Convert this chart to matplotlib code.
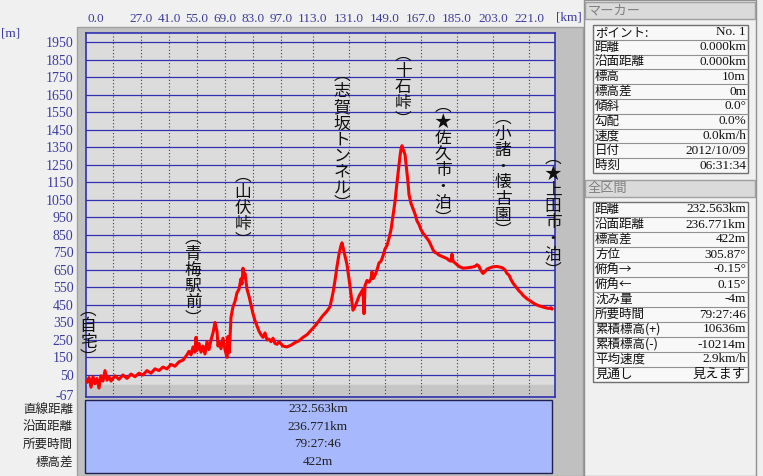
import matplotlib
matplotlib.use("Agg")
import matplotlib.pyplot as plt
from matplotlib.patches import Rectangle
from matplotlib.lines import Line2D

# route profile (distance km, elevation m)
km = [0, 1, 2, 3, 4, 5, 6, 7, 8, 9, 10, 11, 12, 14, 16, 18, 20, 22, 24, 26,
      28, 30, 32, 34, 36, 38, 40, 42, 44, 46, 48, 50, 51, 52, 53, 54, 54.5, 55,
      56, 57, 58, 59, 60, 61, 62, 63, 64, 65, 65.5, 66, 67, 68, 69, 70, 70.5,
      71, 71.5, 72, 73, 74, 75, 76, 77, 77.5, 78, 78.5, 79, 80, 81, 82, 83, 84,
      85, 86, 87, 88, 89, 90, 91, 92, 93, 94, 95, 96, 98, 100, 102, 104, 106,
      108, 110, 112, 114, 116, 118, 120, 121.5, 123, 124, 125, 126, 127, 127.5,
      128, 129, 130, 131, 132, 133, 134, 135, 136, 137, 138, 138.5, 139, 140,
      141, 142, 142.5, 143, 144, 145, 146, 147, 148, 149, 150, 151, 152, 153,
      154, 155, 156, 156.5, 157, 157.5, 158, 159, 160, 160.5, 161, 162, 163,
      164, 165, 166, 167, 168, 169, 170, 171, 172, 173, 174, 175, 176, 177, 178,
      179, 180, 181, 182, 182.5, 183, 184, 185, 186, 187, 188, 190, 192, 194,
      195, 196, 197, 198, 199, 200, 201, 203, 205, 207, 208, 209, 210, 211, 212,
      213, 214, 215, 216, 217, 218, 219, 220, 221, 222, 223, 224, 225, 226, 227,
      228, 229, 230, 231, 232, 232.5]
elev = [10, 35, -20, 40, 0, 30, -25, 45, 15, 75, 20, 40, 15, 45, 25, 50, 30,
        55, 40, 60, 50, 75, 60, 85, 75, 95, 85, 110, 100, 125, 135, 165, 185,
        165, 210, 180, 265, 190, 230, 180, 215, 170, 240, 195, 250, 290, 350,
        300, 215, 240, 200, 260, 195, 150, 270, 175, 260, 380, 440, 470, 520,
        540, 600, 570, 660, 610, 630, 540, 500, 450, 400, 360, 330, 300, 280,
        265, 290, 250, 255, 240, 260, 230, 225, 240, 215, 210, 220, 235, 245,
        265, 280, 305, 330, 360, 390, 415, 440, 520, 590, 670, 740, 790, 805,
        780, 730, 680, 600, 510, 420, 440, 470, 500, 520, 540, 400, 560, 590,
        580, 600, 640, 600, 620, 650, 690, 700, 730, 770, 790, 830, 880, 960,
        1040, 1150, 1250, 1300, 1340, 1360, 1340, 1310, 1200, 1150, 1080, 1030,
        1000, 970, 930, 910, 880, 860, 845, 830, 815, 790, 765, 750, 745, 735,
        730, 725, 720, 715, 705, 700, 740, 700, 690, 680, 670, 665, 660, 662,
        665, 670, 680, 670, 645, 630, 640, 655, 660, 668, 670, 665, 660, 650,
        630, 620, 595, 575, 560, 545, 530, 520, 505, 495, 485, 478, 470, 462,
        455, 450, 445, 442, 438, 435, 432, 430, 434, 428]

place_names = ["自宅", "青梅駅前", "山伏峠", "志賀坂トンネル", "十石峠",
               "★佐久市・泊", "小諸・懐古園", "★上田市・泊"]
place_km = [0.5, 53, 78, 127.5, 158, 178, 208, 233]

ytick_vals = [1950, 1850, 1750, 1650, 1550, 1450, 1350, 1250, 1150, 1050,
              950, 850, 750, 650, 550, 450, 350, 250, 150, 50, -67]
xtick_vals = [0, 27, 41, 55, 69, 83, 97, 113, 131, 149, 167, 185, 203, 221]
xgrid_vals = [13, 27, 41, 55, 69, 83, 97, 113, 131, 149, 167, 185, 203, 221]

summary_names = ["直線距離", "沿面距離", "所要時間", "標高差"]
summary_values = ["232.563km", "236.771km", "79:27:46", "422m"]

marker_names = ["ポイント:", "距離", "沿面距離", "標高", "標高差", "傾斜", "勾配",
                "速度", "日付", "時刻"]
marker_values = ["No. 1", "0.000km", "0.000km", "10m", "0m", "0.0°", "0.0%",
                 "0.0km/h", "2012/10/09", "06:31:34"]
section_names = ["距離", "沿面距離", "標高差", "方位", "俯角→", "俯角←", "沈み量",
                 "所要時間", "累積標高(+)", "累積標高(-)", "平均速度", "見通し"]
section_values = ["232.563km", "236.771km", "422m", "305.87°", "-0.15°",
                  "0.15°", "-4m", "79:27:46", "10636m", "-10214m", "2.9km/h",
                  "見えます"]

W, H = 763, 476
JP = "Noto Sans CJK JP"
NUM = ["Liberation Serif", JP]
BLUE = "#3030b0"
LBL = "#3c3c9c"

fig = plt.figure(figsize=(W / 100, H / 100), dpi=100, facecolor="#f0f0f0")


def rect(x0, y0, x1, y1, **kw):
    r = Rectangle((x0 / W, 1 - y1 / H), (x1 - x0) / W, (y1 - y0) / H,
                  transform=fig.transFigure, **kw)
    fig.add_artist(r)
    return r


def hline(x0, x1, y, **kw):
    fig.add_artist(Line2D([x0 / W, x1 / W], [1 - y / H, 1 - y / H],
                          transform=fig.transFigure, **kw))


def ftext(x, y, s, **kw):
    fig.text(x / W, 1 - y / H, s, **kw)


# grey frame round the graph
rect(77, 27, 583, 476, facecolor="#c0c0c0", edgecolor="#a0a0a0", lw=1, zorder=-5)

ax = fig.add_axes([86 / W, 1 - 397 / H, (555 - 86) / W, (397 - 33) / H])
ax.set_facecolor("#dcdcdc")
ax.set_xlim(-0.5, 234)
ax.set_ylim(-76, 2004)
ax.axhspan(-76, -10, color="#c6c6c6", zorder=0)
for v in ytick_vals[:-1]:
    ax.axhline(v, color=BLUE, lw=0.9, zorder=1)
for v in xgrid_vals:
    ax.axvline(v, color=BLUE, lw=0.8, ls=(0, (1, 2)), zorder=1)
for s in ax.spines.values():
    s.set_color(BLUE)
    s.set_linewidth(1.2)

ax.plot(km, elev, color="red", lw=2.2, zorder=3)

ax.set_yticks(ytick_vals)
ax.set_yticklabels([str(v) for v in ytick_vals], family=NUM, fontsize=10, color=LBL)
ax.xaxis.tick_top()
ax.set_xticks(xtick_vals)
ax.set_xticklabels(["%.1f" % v for v in xtick_vals], family=NUM, fontsize=9.5,
                   color=LBL)
ax.tick_params(length=0)
ax.tick_params(axis="y", pad=9)
ax.tick_params(axis="x", pad=6)
for lbl in ax.get_xticklabels():
    if lbl.get_text() == "0.0":
        lbl.set_ha("left")

ftext(569, 17, "[km]", family=NUM, fontsize=9.5, color=LBL, ha="center", va="center")
ftext(1, 34, "[m]", family=NUM, fontsize=9.5, color=LBL, ha="left", va="center")

# place names written vertically
tops = [467, 879, 1233, 1810, 1924, 1633, 1564, 1336]
for name, x, top in zip(place_names, place_km, tops):
    chars = ["︵"] + list(name) + ["︶"]
    for i, ch in enumerate(chars):
        ax.annotate(ch, xy=(x, top), xytext=(0, -11.6 * i), textcoords="offset points",
                    ha="center", va="top", fontsize=12, family=[JP, "DejaVu Sans"],
                    color="#101010", annotation_clip=False, zorder=4)

# summary box under the graph
rect(85, 400, 552, 473, facecolor="#a8b8fc", edgecolor="#202050", lw=1)
for i, (n, v) in enumerate(zip(summary_names, summary_values)):
    y = 409 + i * 17.6
    ftext(73, y, n, family=JP, fontsize=9, color="#202020", ha="right", va="center")
    ftext(318, y, v, family=NUM, fontsize=9.5, color="#202020", ha="center", va="center")

# side panel
rect(584, 0, 756, 476, facecolor="#f0f0f0", edgecolor="#909090", lw=1)


def header(y0, y1, title):
    rect(585, y0, 755, y1, facecolor="#dadada", edgecolor="#a0a0a0", lw=1)
    ftext(588, (y0 + y1) / 2, title, family=JP, fontsize=9.5, color="#808080",
          ha="left", va="center")


def table(y0, rowh, names, values):
    n = len(names)
    rect(593, y0, 748, y0 + rowh * n, facecolor="#f8f8f8", edgecolor="#707070", lw=1)
    for i, (a, b) in enumerate(zip(names, values)):
        yc = y0 + rowh * (i + 0.5)
        if i:
            hline(593, 748, y0 + rowh * i, color="#909090", lw=0.8)
        ftext(595, yc, a, family=JP, fontsize=9, color="#101010", ha="left", va="center")
        ftext(746, yc, b, family=NUM, fontsize=9.5, color="#101010", ha="right", va="center")


header(2, 19, "マーカー")
table(25, 14.8, marker_names, marker_values)
header(180, 197, "全区間")
table(202, 15.0, section_names, section_values)

fig.savefig("out.png", dpi=100, facecolor=fig.get_facecolor())
